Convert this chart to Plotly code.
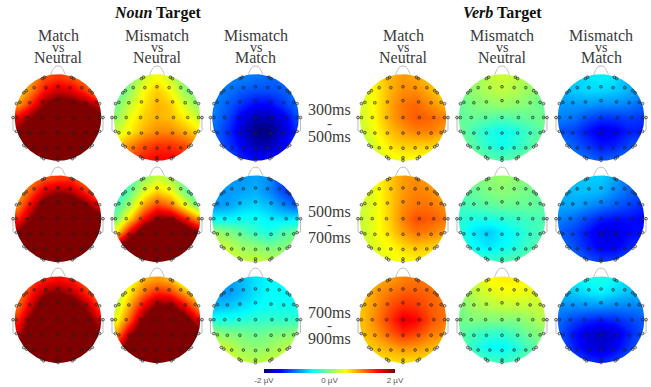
import numpy as np
import plotly.graph_objects as go

W, H = 651, 387
GRID = [-.93, -.62, -.31, 0, .31, .62, .93]

# Rows run from the front of the head (top) to the back (bottom); values in microvolts.
N300_MATCH = [[.7,.9,1.2,1.3,1.2,1.0,.6],[.6,1.0,1.5,1.7,1.6,1.3,.8],[.9,1.4,2.0,2.3,2.2,2.0,1.7],[1.6,2.0,2.5,2.7,2.6,2.4,2.3],[2.0,2.5,2.8,3,3,2.7,2.4],[2.3,2.7,3,3,3,2.9,2.6],[2.5,2.8,3,3,3,3,2.8]]
N300_MISNEU = [[-.2,0,.3,.5,.3,0,-.2],[-.2,.1,.5,.7,.5,.1,-.1],[0,.3,.6,.8,.7,.35,.1],[.1,.45,.7,.8,.75,.55,.3],[.3,.55,.8,.95,.95,.8,.6],[.7,.95,1.2,1.3,1.3,1.2,1],[1,1.2,1.4,1.5,1.5,1.4,1.2]]
N300_MISMAT = [[-1,-1,-1,-1.05,-1.1,-1.1,-1],[-1,-1.05,-1.15,-1.2,-1.2,-1.15,-1],[-1,-1.15,-1.35,-1.5,-1.5,-1.3,-1.1],[-1.05,-1.25,-1.6,-1.8,-1.8,-1.6,-1.25],[-1.1,-1.35,-1.7,-2,-2,-1.7,-1.35],[-1.1,-1.3,-1.55,-1.8,-1.8,-1.55,-1.3],[-1.1,-1.2,-1.4,-1.5,-1.5,-1.4,-1.2]]
V300_MATCH = [[.4,.6,.8,.9,.85,.7,.5],[.35,.55,.8,.95,.95,.8,.6],[.35,.55,.85,1.05,1.1,.95,.8],[.35,.55,.85,1.05,1.15,1.1,1],[.3,.5,.75,.9,1,1,.9],[.2,.4,.6,.7,.7,.7,.6],[.1,.3,.45,.5,.5,.45,.4]]
V300_MISNEU = [[0,.1,.25,.3,.25,.15,0],[0,.1,.2,.25,.2,.1,0],[-.1,0,.05,.1,.05,0,-.1],[-.1,-.1,-.15,-.2,-.15,-.1,-.05],[-.1,-.25,-.4,-.45,-.4,-.25,-.1],[-.05,-.2,-.35,-.45,-.35,-.2,-.05],[0,-.05,-.15,-.2,-.15,-.05,0]]
V300_MISMAT = [[-.7,-.7,-.6,-.55,-.6,-.8,-.9],[-.8,-.7,-.65,-.65,-.7,-.8,-.9],[-.9,-.9,-.9,-.95,-.95,-1,-1.1],[-1,-1.05,-1.2,-1.3,-1.3,-1.25,-1.3],[-1.2,-1.25,-1.45,-1.6,-1.55,-1.4,-1.4],[-1,-1.15,-1.3,-1.45,-1.4,-1.25,-1.1],[-.9,-1,-1.1,-1.2,-1.15,-1.05,-.9]]
N500_MATCH = [[.9,1.0,1.2,1.3,1.3,1.0,.8],[.8,1.2,1.7,1.9,1.8,1.4,1.0],[1.0,1.6,2.3,2.7,2.5,2.1,1.6],[1.4,2.0,2.8,3.2,3.2,2.6,2.3],[2.0,2.6,3.2,3.5,3.5,3,2.7],[2.5,3,3.4,3.5,3.5,3.3,3],[2.8,3,3.5,3.5,3.5,3.5,3]]
N500_MISNEU = [[-.3,-.2,.1,.3,.2,-.1,-.3],[-.4,-.1,.4,.7,.5,0,-.3],[-.2,.2,.9,1.3,1.1,.5,0],[0,.7,1.5,2,2,1.5,.9],[.6,1.6,2.4,2.9,2.9,2.5,2],[2,2.6,3.2,3.4,3.4,3.2,3],[3,3,3.5,3.5,3.5,3.5,3.2]]
N500_MISMAT = [[-.9,-.9,-.9,-.85,-.95,-1.3,-1.4],[-.9,-.9,-.85,-.8,-.95,-1.2,-1.4],[-.9,-.85,-.7,-.65,-.75,-.95,-1.1],[-.5,-.5,-.45,-.45,-.55,-.6,-.55],[.1,0,-.15,-.3,-.4,-.2,-.1],[.3,.25,.1,.05,-.05,0,.1],[.4,.35,.25,.25,.2,.2,.2]]
V500_MATCH = [[.4,.5,.7,.9,.95,.85,.7],[.35,.45,.7,.9,1,.95,.8],[.3,.45,.7,.95,1.05,1.05,.95],[.3,.45,.7,1,1.2,1.15,1.05],[.3,.45,.65,.9,1.05,1,.9],[.3,.4,.5,.65,.75,.7,.65],[.3,.4,.45,.5,.55,.5,.5]]
V500_MISNEU = [[-.1,0,.05,.1,.05,0,-.1],[-.15,-.1,0,.05,0,-.05,-.1],[-.25,-.2,-.15,-.1,-.1,-.1,-.15],[-.35,-.4,-.4,-.35,-.3,-.25,-.2],[-.4,-.6,-.7,-.55,-.45,-.3,-.2],[-.3,-.5,-.6,-.5,-.4,-.25,-.15],[-.1,-.25,-.3,-.25,-.2,-.1,-.05]]
V500_MISMAT = [[-.8,-.75,-.7,-.7,-.85,-1.1,-1.2],[-.8,-.75,-.75,-.8,-.95,-1.1,-1.2],[-.85,-.85,-.95,-1.05,-1.15,-1.25,-1.35],[-1,-1.1,-1.25,-1.4,-1.45,-1.45,-1.5],[-1.15,-1.25,-1.45,-1.65,-1.65,-1.5,-1.45],[-1.05,-1.2,-1.4,-1.55,-1.55,-1.4,-1.3],[-.95,-1.05,-1.2,-1.3,-1.3,-1.2,-1.1]]
N700_MATCH = [[1.0,1.2,1.4,1.5,1.4,1.1,.9],[1.0,1.4,1.9,2.0,1.8,1.4,1.0],[1.1,1.7,2.5,2.7,2.5,1.9,1.3],[1.4,2.1,3,3.2,3,2.3,1.7],[1.7,2.4,3.2,3.5,3.3,2.7,2.1],[2.1,2.8,3.4,3.5,3.4,3,2.5],[2.5,3,3.5,3.5,3.5,3.2,2.8]]
N700_MISNEU = [[.2,.4,.8,.9,.8,.3,.1],[.2,.6,1.1,1.4,1.3,.9,.5],[.3,.9,1.6,2.1,2.1,1.6,1.0],[.5,1.2,2.1,2.8,2.8,2.3,1.6],[.9,1.8,2.7,3.2,3.3,2.9,2.3],[1.6,2.4,3.2,3.4,3.4,3.1,2.8],[2.2,2.8,3.3,3.5,3.5,3.3,3]]
N700_MISMAT = [[-.8,-.9,-.75,-.6,-.5,-.5,-.5],[-.9,-.9,-.75,-.6,-.5,-.5,-.5],[-.75,-.7,-.6,-.5,-.45,-.45,-.45],[-.4,-.4,-.35,-.3,-.3,-.3,-.3],[.05,0,-.05,-.1,-.05,0,.05],[.35,.25,.1,.05,.1,.2,.3],[.4,.35,.25,.2,.25,.3,.4]]
V700_MATCH = [[.7,.8,.9,1.0,1.05,1.0,.9],[.7,.9,1.05,1.15,1.15,1.1,1],[.75,.95,1.2,1.35,1.3,1.15,1.05],[.75,1,1.3,1.6,1.5,1.2,1.05],[.75,.9,1.15,1.35,1.25,1.05,.95],[.6,.75,.85,.95,.9,.8,.7],[.5,.6,.65,.65,.65,.6,.55]]
V700_MISNEU = [[.1,.3,.5,.55,.55,.5,.4],[.1,.25,.35,.45,.45,.4,.35],[0,.15,.2,.25,.25,.25,.3],[-.05,0,0,0,0,.1,.2],[-.15,-.25,-.3,-.3,-.2,-.05,.05],[-.15,-.35,-.5,-.5,-.4,-.2,-.05],[-.05,-.15,-.25,-.3,-.25,-.1,0]]
V700_MISMAT = [[-.6,-.55,-.45,-.4,-.5,-.65,-.7],[-.75,-.7,-.6,-.55,-.65,-.75,-.8],[-.95,-.95,-.95,-.95,-1,-1,-1],[-1.1,-1.25,-1.35,-1.4,-1.35,-1.25,-1.15],[-1.2,-1.45,-1.65,-1.75,-1.65,-1.4,-1.2],[-1.15,-1.4,-1.6,-1.7,-1.55,-1.3,-1.1],[-1.05,-1.2,-1.35,-1.4,-1.3,-1.15,-1]]

MAPS = [
    [N300_MATCH, N300_MISNEU, N300_MISMAT, V300_MATCH, V300_MISNEU, V300_MISMAT],
    [N500_MATCH, N500_MISNEU, N500_MISMAT, V500_MATCH, V500_MISNEU, V500_MISMAT],
    [N700_MATCH, N700_MISNEU, N700_MISMAT, V700_MATCH, V700_MISNEU, V700_MISMAT],
]
COLUMN_TOP = ["Match", "Mismatch", "Mismatch", "Match", "Mismatch", "Mismatch"]
COLUMN_BOTTOM = ["Neutral", "Neutral", "Match", "Neutral", "Neutral", "Match"]
GROUPS = ["<b><i>Noun</i> Target</b>", "<b><i>Verb</i> Target</b>"]
WINDOW_START = ["300ms", "500ms", "700ms"]
WINDOW_END = ["500ms", "700ms", "900ms"]
COLORBAR_VALUES = [-2, 0, 2]
COLORBAR_LABELS = ["-2 µV", "0 µV", "2 µV"]

# Electrode montage in head units (one hemisphere plus the midline, mirrored below).
SIDE_X = [.79,.73,.96,.88,1.04,.96,.96,.88,.79,.73,.38,.33,.36,.31,
          .55,.28,.65,.36,.71,.38,.65,.36,.55,.28]
SIDE_Y = [.57,.62,.32,.35,0,0,-.32,-.35,-.64,-.68,-.91,-.95,.90,.93,
          .69,.69,.34,.36,0,0,-.36,-.36,-.70,-.70]
MID_Y = [.71,.39,0,-.36,-.71,-.93,-.99]
ELEC_X = [s * x for s in (-1, 1) for x in SIDE_X] + [0] * len(MID_Y)
ELEC_Y = SIDE_Y + SIDE_Y + MID_Y

NOSE_X = [-.17, -.13, -.07, 0, .07, .13, .17]
NOSE_Y = [.99, 1.08, 1.17, 1.19, 1.17, 1.08, .99]
EAR_X = [.98, 1.04, 1.04, .98]
EAR_Y = [0, -.02, -.30, -.33]

JET = [[0, "#00007f"], [.125, "#0000ff"], [.375, "#00ffff"], [.625, "#ffff00"],
       [.875, "#ff0000"], [1, "#7f0000"]]

CENTER_X = [58, 157, 255.5, 403, 502, 601]
CENTER_Y = [117.5, 218.7, 319.7]
RADIUS = 43.3
X_SPAN = 1.13
Y_LOW, Y_HIGH = -1.11, 1.24

# White surround with a round hole: only the head disc shows the heatmap.
angle = np.linspace(0, -2 * np.pi, 181)
mask_x = [X_SPAN, X_SPAN, -X_SPAN, -X_SPAN, X_SPAN, X_SPAN] + list(np.cos(angle)) + [X_SPAN]
mask_y = [0, Y_HIGH, Y_HIGH, Y_LOW, Y_LOW, 0] + list(np.sin(angle)) + [0]

fig = go.Figure()
n = 0
for r, row in enumerate(MAPS):
    for c, z in enumerate(row):
        n += 1
        s = str(n)
        ax = dict(xaxis="x" + s, yaxis="y" + s)
        fig.add_trace(go.Heatmap(x=GRID, y=GRID, z=z[::-1], coloraxis="coloraxis",
                                 zsmooth="best", hoverinfo="skip", **ax))
        fig.add_trace(go.Scatter(x=mask_x, y=mask_y, mode="lines", fill="toself",
                                 fillcolor="white", line=dict(width=0),
                                 hoverinfo="skip", showlegend=False, **ax))
        fig.add_trace(go.Scatter(x=NOSE_X, y=NOSE_Y, mode="lines", line=dict(color="#bdbdbd", width=1),
                                 line_shape="spline", hoverinfo="skip", showlegend=False, **ax))
        for ox in (EAR_X, [-v for v in EAR_X]):
            fig.add_trace(go.Scatter(x=ox, y=EAR_Y, mode="lines", line=dict(color="#bdbdbd", width=1),
                                     hoverinfo="skip", showlegend=False, **ax))
        fig.add_trace(go.Scatter(x=ELEC_X, y=ELEC_Y, mode="markers", cliponaxis=False,
                                 marker=dict(size=2.8, color="rgba(40,40,40,.25)",
                                             line=dict(color="rgba(30,30,30,.7)", width=0.8)),
                                 hoverinfo="skip", showlegend=False, **ax))
        cx, cy = CENTER_X[c], CENTER_Y[r]
        fig.layout["xaxis" + s] = dict(
            domain=[(cx - X_SPAN * RADIUS) / W, (cx + X_SPAN * RADIUS) / W],
            range=[-X_SPAN, X_SPAN], visible=False, fixedrange=True, anchor="y" + s)
        fig.layout["yaxis" + s] = dict(
            domain=[1 - (cy - Y_LOW * RADIUS) / H, 1 - (cy - Y_HIGH * RADIUS) / H],
            range=[Y_LOW, Y_HIGH], visible=False, fixedrange=True, anchor="x" + s)


def label(text, x, y, size, color="#3a3a3a"):
    fig.add_annotation(text=text, x=x / W, y=1 - y / H, xref="paper", yref="paper",
                       xanchor="center", yanchor="middle", showarrow=False,
                       font=dict(family="Liberation Serif", size=size, color=color))


for i, g in enumerate(GROUPS):
    label(g, [157, 502][i], 13, 16, "#111111")
for c in range(6):
    label(COLUMN_TOP[c], CENTER_X[c], 36, 16)
    label("vs", CENTER_X[c], 47, 14)
    label(COLUMN_BOTTOM[c], CENTER_X[c], 57, 16)
for r in range(3):
    label(WINDOW_START[r], 329.5, [109, 211, 312][r], 16)
    label("-", 329.5, [123, 224, 325][r], 15)
    label(WINDOW_END[r], 329.5, [136, 237, 338][r], 16)

fig.update_layout(
    width=W, height=H, margin=dict(l=0, r=0, t=0, b=0),
    paper_bgcolor="white", plot_bgcolor="white", showlegend=False,
    coloraxis=dict(
        cmin=-2, cmax=2, colorscale=JET,
        colorbar=dict(orientation="h", x=329.5 / W, xanchor="center", y=1 - 369 / H, yanchor="top",
                      thickness=4, len=131, lenmode="pixels", xpad=0, ypad=0,
                      tickvals=COLORBAR_VALUES, ticktext=COLORBAR_LABELS, ticks="",
                      outlinewidth=0, tickfont=dict(family="Liberation Sans", size=8, color="#555555")),
    ),
)
fig.write_html("out.html", config={"displayModeBar": False},
               post_script="document.body.style.margin='0';")
